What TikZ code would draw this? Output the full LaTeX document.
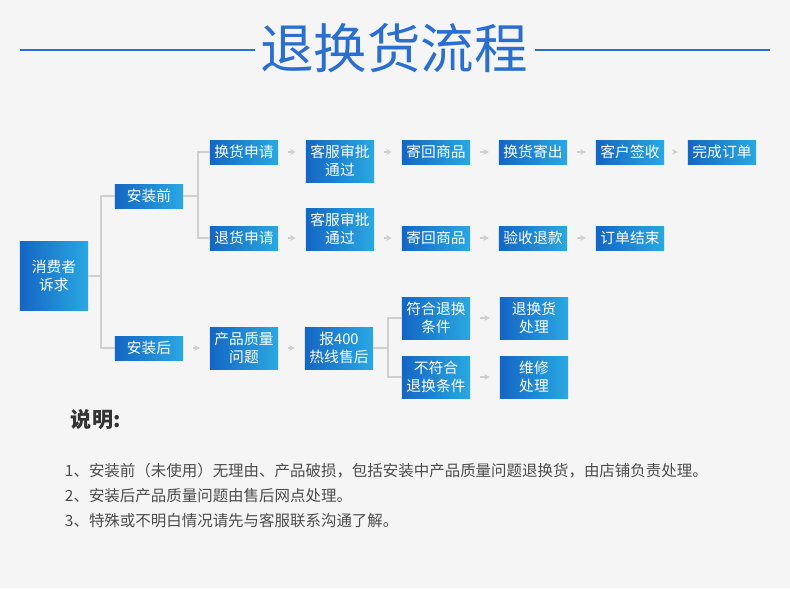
\documentclass[tikz,border=0pt]{standalone}
\usepackage{fontspec}
\setmainfont{Noto Sans CJK SC}
\usetikzlibrary{positioning,calc,arrows.meta}
\definecolor{bgray}{HTML}{F5F5F5}
\definecolor{boxdark}{HTML}{1466C4}
\definecolor{boxlight}{HTML}{2AA8E2}
\definecolor{titleblue}{HTML}{2A6ED0}
\definecolor{linegray}{HTML}{CFCFCF}
\tikzset{
    stepbox/.style={left color=boxdark, right color=boxlight, text=white, minimum width=1.7cm,
                    minimum height=0.6cm, inner sep=1pt, align=center, font=\fontsize{10.5}{12.5}\selectfont},
    tallbox/.style={stepbox, minimum height=1.05cm},
    link/.style={draw=linegray, thick},
    flow/.style={link, -{Stealth[length=4pt,width=4pt]}, shorten >=7pt, shorten <=7pt},
    note/.style={anchor=west, text=black!70, font=\fontsize{11}{13}\selectfont},
}
\begin{document}
\begin{tikzpicture}[x=0.025cm, y=-0.025cm]
    \useasboundingbox[fill=bgray] (0,0) rectangle (790,588);
    % Title
    \node[text=titleblue, font=\fontsize{38}{40}\selectfont] (title) at (394,48) {退换货流程};
    \coordinate (tl) at (255,50);
    \coordinate (tr) at (535,50);
    \draw[titleblue, thick] (20,50) -- (tl);
    \draw[titleblue, thick] (tr) -- (770,50);

    % Root and branches
    \node[stepbox, minimum width=1.7cm, minimum height=1.7cm] (user) at (54,276) {消费者\\诉求};
    \node[stepbox] (before) at (149,196) {安装前};
    \node[stepbox] (after) at (149,348) {安装后};

    % Before installation
    \node[stepbox] (swap) at (244,152) {换货申请};
    \node[stepbox] (ret) at (244,238) {退货申请};
    \node[tallbox] (ok1) at (340,161) {客服审批\\通过};
    \node[tallbox] (ok2) at (340,229) {客服审批\\通过};
    \node[stepbox] (send1) at (436,152) {寄回商品};
    \node[stepbox] (send2) at (436,238) {寄回商品};
    \node[stepbox] (out) at (533,152) {换货寄出};
    \node[stepbox] (refund) at (533,238) {验收退款};
    \node[stepbox] (sign) at (630,152) {客户签收};
    \node[stepbox] (close) at (630,238) {订单结束};
    \node[stepbox] (done) at (722,152) {完成订单};

    % After installation
    \node[tallbox] (fault) at (244,348) {产品质量\\问题};
    \node[tallbox] (hotline) at (339,348) {报400\\热线售后};
    \node[tallbox] (yes) at (436,318) {符合退换\\条件};
    \node[tallbox] (no) at (436,377) {不符合\\退换条件};
    \node[tallbox] (handle) at (534,318) {退换货\\处理};
    \node[tallbox] (repair) at (534,377) {维修\\处理};

    % Tree links
    \coordinate (j1) at (101,276);
    \coordinate (j2) at (198,196);
    \coordinate (j3) at (388,348);
    \draw[link] (user.east) -- (j1);
    \draw[link] (j1) |- (before.west);
    \draw[link] (j1) |- (after.west);
    \draw[link] (before.east) -- (j2);
    \draw[link] (j2) |- (swap.west);
    \draw[link] (j2) |- (ret.west);
    \draw[link] (hotline.east) -- (j3);
    \draw[link] (j3) |- (yes.west);
    \draw[link] (j3) |- (no.west);

    % Flow arrows
    \draw[flow] (swap.east) -- (swap.east -| ok1.west);
    \draw[flow] (ok1.east |- send1) -- (send1.west);
    \draw[flow] (send1) -- (out);
    \draw[flow] (out) -- (sign);
    \draw[flow] (sign) -- (done);
    \draw[flow] (ret.east) -- (ret.east -| ok2.west);
    \draw[flow] (ok2.east |- send2) -- (send2.west);
    \draw[flow] (send2) -- (refund);
    \draw[flow] (refund) -- (close);
    \draw[flow] (after) -- (fault);
    \draw[flow] (fault) -- (hotline);
    \draw[flow] (yes) -- (handle);
    \draw[flow] (no) -- (repair);

    % Notes
    \node[anchor=west, text=black!80, font=\fontsize{15}{18}\selectfont\bfseries] (notes) at (66,420) {说明:};
    \node[note] (n1) at (60,471) {1、安装前（未使用）无理由、产品破损，包括安装中产品质量问题退换货，由店铺负责处理。};
    \node[note] (n2) at (60,496) {2、安装后产品质量问题由售后网点处理。};
    \node[note] (n3) at (60,521) {3、特殊或不明白情况请先与客服联系沟通了解。};
\end{tikzpicture}
\end{document}
